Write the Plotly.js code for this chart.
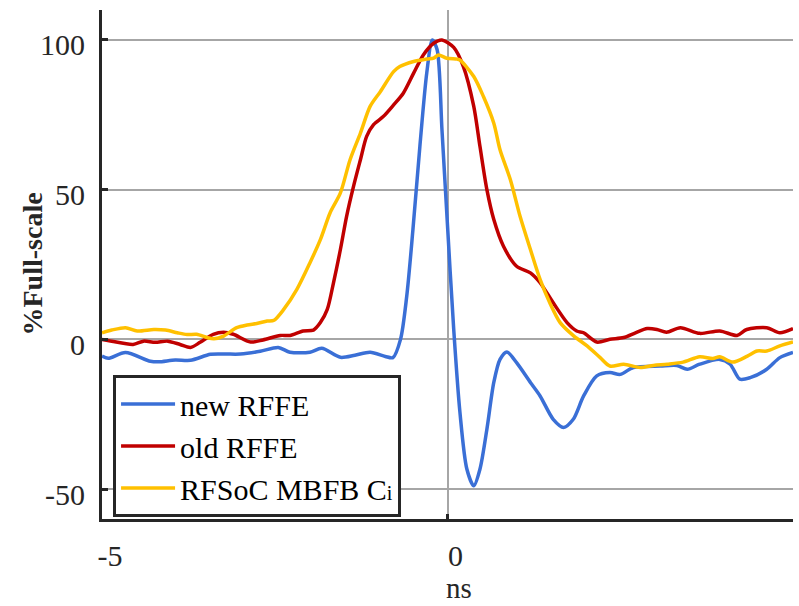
<!DOCTYPE html>
<html>
<head>
<meta charset="utf-8">
<script src="https://cdn.plot.ly/plotly-3.0.1.min.js"></script>
<style>
  html, body { margin: 0; padding: 0; background: #ffffff; font-family: 'Liberation Serif', serif; }
  #chart { width: 799px; height: 606px; }
</style>
</head>
<body>
<div id="chart"></div>
<script>
// Impulse responses, time in ns, amplitude in % of full scale
const newRffeT = [-5.0, -4.91, -4.66, -4.30, -4.18, -3.94, -3.72, -3.43, -3.22, -3.00, -2.71, -2.45, -2.28, -1.99, -1.82, -1.55, -1.34, -1.12, -0.90, -0.79, -0.68, -0.59, -0.50, -0.40, -0.30, -0.22, -0.15, -0.08, -0.01, 0.09, 0.18, 0.28, 0.38, 0.47, 0.57, 0.67, 0.76, 0.86, 1.00, 1.20, 1.34, 1.53, 1.68, 1.82, 1.97, 2.16, 2.35, 2.50, 2.69, 3.08, 3.32, 3.47, 3.65, 3.94, 4.09, 4.23, 4.38, 4.62, 4.81, 5.0];
const newRffeY = [-5.6, -6.3, -4.4, -7.3, -7.5, -6.9, -7.0, -5.0, -4.9, -4.9, -4.0, -2.7, -4.3, -4.3, -3.0, -6.0, -5.3, -4.3, -5.7, -6.1, 0, 14.4, 36.7, 64.4, 89, 100, 96.7, 70, 42, 3.3, -24.4, -43.3, -48.9, -43.3, -30, -14.4, -6.7, -4.2, -7.8, -14.4, -18.9, -26.7, -29.4, -26.7, -18.9, -12.2, -11.1, -11.7, -9.4, -8.9, -8.7, -10, -8.3, -6.7, -8.3, -13.3, -12.8, -10, -6.1, -4.4];

const oldRffeT = [-5.0, -4.86, -4.55, -4.40, -4.23, -4.05, -3.87, -3.72, -3.58, -3.39, -3.24, -3.10, -2.85, -2.67, -2.42, -2.28, -2.09, -1.94, -1.84, -1.74, -1.65, -1.55, -1.46, -1.36, -1.26, -1.17, -1.07, -0.93, -0.78, -0.64, -0.49, -0.35, -0.20, -0.08, 0.09, 0.23, 0.38, 0.47, 0.57, 0.67, 0.81, 1.00, 1.20, 1.34, 1.53, 1.73, 1.87, 1.97, 2.16, 2.35, 2.55, 2.72, 2.89, 3.03, 3.17, 3.37, 3.65, 3.94, 4.19, 4.33, 4.62, 4.81, 5.0];
const oldRffeY = [0, -0.6, -1.7, -0.6, -1.0, -0.6, -1.7, -2.7, -1.0, 1.7, 2.4, 1.7, -0.9, -0.2, 1.3, 1.3, 2.8, 3.1, 5.6, 10, 18.9, 30, 41.1, 51.1, 60, 67.8, 71.7, 74.4, 78.3, 82.2, 88.9, 95, 98.9, 100, 97.5, 91.1, 77.8, 64.4, 50, 40, 31.1, 24.4, 22.2, 18.9, 12.2, 5.6, 2.8, 2.2, -0.9, 0, 0.6, 2.2, 3.6, 3.3, 2.4, 3.9, 2.0, 2.8, 1.3, 3.3, 3.9, 2.2, 3.6];

const rfsocT = [-5.0, -4.86, -4.66, -4.49, -4.25, -4.08, -3.91, -3.77, -3.63, -3.48, -3.38, -3.24, -3.05, -2.90, -2.76, -2.61, -2.51, -2.37, -2.18, -1.99, -1.84, -1.70, -1.55, -1.41, -1.26, -1.12, -0.97, -0.78, -0.69, -0.49, -0.30, -0.20, -0.13, -0.01, 0.14, 0.18, 0.38, 0.52, 0.67, 0.76, 0.91, 1.05, 1.20, 1.34, 1.48, 1.63, 1.83, 2.02, 2.21, 2.35, 2.55, 2.79, 2.98, 3.18, 3.41, 3.65, 3.84, 3.94, 4.13, 4.34, 4.48, 4.62, 4.81, 5.0];
const rfsocY = [2.2, 3.1, 3.9, 2.8, 3.3, 3.1, 2.2, 1.6, 1.7, 0.6, 0.2, 1.1, 3.9, 4.8, 5.3, 6.1, 6.4, 10, 16.7, 25.6, 33.3, 42.2, 48.9, 60, 68.9, 77.8, 82.8, 89.4, 91.1, 92.8, 93.6, 93.9, 95, 93.9, 93.6, 93.3, 87.8, 81.1, 72.2, 63.3, 53.3, 41.1, 30, 20, 12.2, 5.6, 1.1, -2.2, -6.1, -8.9, -8.3, -9.4, -8.7, -8.3, -7.6, -5.8, -6.4, -5.8, -7.6, -5.6, -3.9, -3.9, -2.2, -0.9];

const seriesNames = ['new RFFE', 'old RFFE', 'RFSoC MBFB C<span style="font-size:20px">i</span>'];
const seriesColors = ['#3a6fd6', '#c00000', '#ffc000'];

const xTicks = [-5, 0, 5];
const yTicks = [-50, 0, 50, 100];

const xTitle = 'ns';
const yTitle = '<b>%Full-scale</b>';

const serif = 'Liberation Serif';
const ink = '#262626';
const grid = '#a6a6a6';

function trace(t, y, i) {
  return {
    x: t, y: y, name: seriesNames[i],
    type: 'scatter', mode: 'lines',
    line: { color: seriesColors[i], width: 3.5, shape: 'spline', smoothing: 0.8 },
    hoverinfo: 'skip'
  };
}

const data = [
  trace(newRffeT, newRffeY, 0),
  trace(oldRffeT, oldRffeY, 1),
  trace(rfsocT, rfsocY, 2)
];

const layout = {
  width: 799, height: 606,
  margin: { l: 102, r: 6, t: 10, b: 87 },
  paper_bgcolor: '#ffffff', plot_bgcolor: '#ffffff',
  font: { family: serif, size: 30, color: ink },
  showlegend: true,
  legend: {
    x: 0.016, y: 0.283, xanchor: 'left', yanchor: 'top',
    bgcolor: '#ffffff', bordercolor: ink, borderwidth: 3,
    font: { size: 30, color: '#000000' },
    itemwidth: 54, traceorder: 'normal'
  },
  xaxis: {
    range: [-5, 5], tickvals: xTicks, ticktext: xTicks.map(String),
    showgrid: true, gridcolor: grid, gridwidth: 2, zeroline: false,
    showline: true, linecolor: ink, linewidth: 3,
    ticks: 'inside', ticklen: 5, tickwidth: 3, tickcolor: ink,
    ticklabelshift: 8, ticklabelstandoff: 8
  },
  yaxis: {
    range: [-60, 110], tickvals: yTicks, ticktext: yTicks.map(String),
    showgrid: true, gridcolor: grid, gridwidth: 2, zeroline: false,
    showline: true, linecolor: ink, linewidth: 3,
    ticks: 'inside', ticklen: 6, tickwidth: 3, tickcolor: ink,
    ticklabelshift: 5, ticklabelstandoff: 8
  },
  annotations: [
    // axis titles
    { text: xTitle, xref: 'x', x: 0, xshift: 11, yref: 'paper', y: 0, yshift: -69,
      xanchor: 'center', yanchor: 'middle', showarrow: false,
      font: { size: 29, color: ink } },
    { text: yTitle, xref: 'paper', x: 0, xshift: -70, yref: 'paper', y: 0.5,
      xanchor: 'center', yanchor: 'middle', textangle: -90, showarrow: false,
      font: { size: 28, color: ink } }
  ]
};

Plotly.newPlot('chart', data, layout, { staticPlot: true, displayModeBar: false });
</script>
</body>
</html>
